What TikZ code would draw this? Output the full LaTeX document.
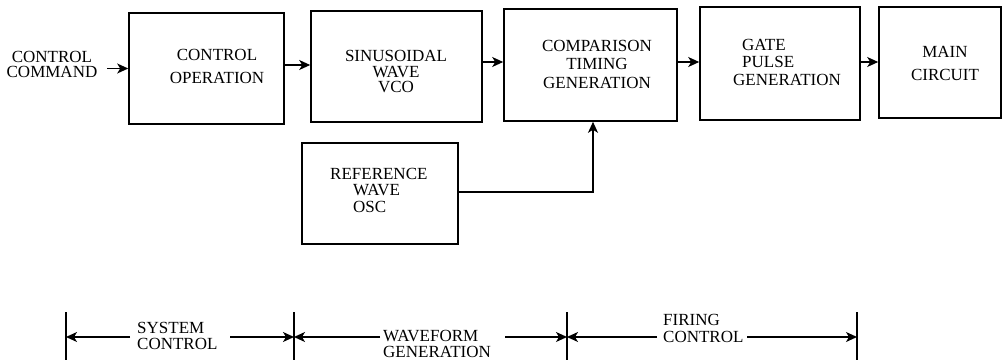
\documentclass[tikz,border=0pt]{standalone}
\usepackage{fontspec}
\setmainfont{Liberation Serif}
\usetikzlibrary{arrows.meta,calc}
\begin{document}
\begin{tikzpicture}[x=1pt,y=-1pt,
  blk/.style={draw,line width=1.6pt,rectangle,inner sep=0pt},
  lbl/.style={inner sep=0pt,font=\fontsize{17}{#1}\selectfont},
  arr/.style={line width=1.5pt,-{Stealth[length=11pt,width=10pt,inset=3pt]}},
  tick/.style={line width=1.3pt}]
\useasboundingbox (0,0) rectangle (1004,361);
% blocks
\node[blk,minimum width=155pt,minimum height=111pt] (cop) at (206.5,68.5) {};
\node[blk,minimum width=171pt,minimum height=111pt] (vco) at (396.5,66.5) {};
\node[blk,minimum width=173pt,minimum height=112pt] (cmp) at (590.5,65) {};
\node[blk,minimum width=160pt,minimum height=113pt] (gat) at (780,63.5) {};
\node[blk,minimum width=122pt,minimum height=111pt] (mai) at (940,62.5) {};
\node[blk,minimum width=156pt,minimum height=101pt] (ref) at (380,193.5) {};
% texts
\node[lbl=15,align=center] (cmdt) at (52,64) {CONTROL\\COMMAND};
\node[lbl=23,align=center] (copt) at (217,66) {CONTROL\\OPERATION};
\node[lbl=15.5,align=center] (vcot) at (396,72) {SINUSOIDAL\\WAVE\\VCO};
\node[lbl=18.5,align=center] (cmpt) at (597,64) {COMPARISON\\TIMING\\GENERATION};
\node[lbl=17.5,align=left,anchor=west] (gatt) at (733,62) {\hspace*{9pt}GATE\\\hspace*{9pt}PULSE\\GENERATION};
\node[lbl=23,align=center] (mait) at (945,63) {MAIN\\CIRCUIT};
\node[lbl=16.5,align=left,anchor=west] (reft) at (330,190) {REFERENCE\\\hspace*{23pt}WAVE\\\hspace*{23pt}OSC};
% connectors
\coordinate (cin) at (107,68.5);
\coordinate (r65) at (0,65);
\coordinate (r62) at (0,62);
\coordinate (rjoin) at (593,192);
\draw[arr] (cin) -- (cop.west);
\draw[arr] (cop.east |- r65) -- (vco.west |- r65);
\draw[arr] (vco.east |- r62) -- (cmp.west |- r62);
\draw[arr] (cmp.east |- r62) -- (gat.west |- r62);
\draw[arr] (gat.east |- r62) -- (mai.west |- r62);
\draw[arr] (ref.east |- rjoin) -- (rjoin) -- (rjoin |- cmp.south);
% bottom scale
\foreach \n/\x in {ta/66,tb/294,tc/567,td/857}{
  \coordinate (\n1) at (\x,312);
  \coordinate (\n2) at (\x,360);
  \coordinate (\n) at (\x,337);
  \draw[tick] (\n1) -- (\n2);
}
\node[lbl=16,align=left,anchor=west] (syst) at (137,336) {SYSTEM\\CONTROL};
\node[lbl=16,align=left,anchor=west] (wavt) at (383,344) {WAVEFORM\\GENERATION};
\node[lbl=17,align=left,anchor=west] (firt) at (663,328) {FIRING\\CONTROL};
\coordinate (s1) at (130,337);
\coordinate (s2) at (230,337);
\coordinate (w1) at (380,337);
\coordinate (w2) at (505,337);
\coordinate (f1) at (657,337);
\coordinate (f2) at (747,337);
\draw[arr] (s1) -- (ta);
\draw[arr] (s2) -- (tb);
\draw[arr] (w1) -- (tb);
\draw[arr] (w2) -- (tc);
\draw[arr] (f1) -- (tc);
\draw[arr] (f2) -- (td);
\end{tikzpicture}
\end{document}
